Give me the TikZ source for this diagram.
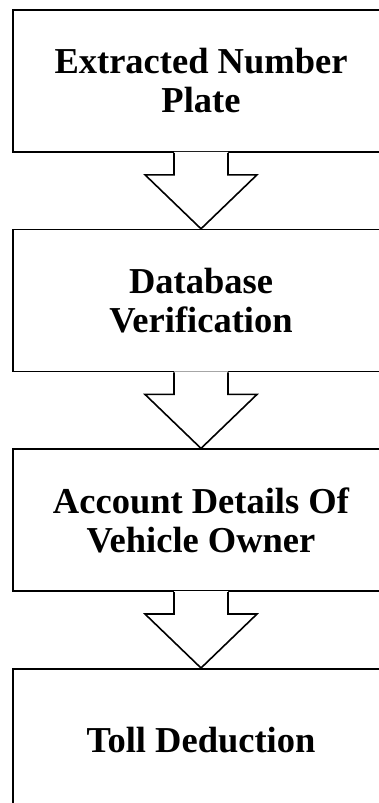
\documentclass[tikz,border=0pt]{standalone}
\usepackage{fontspec}
\setmainfont{Liberation Serif}
\usetikzlibrary{positioning,calc}
\tikzset{
    stage/.style={
           rectangle,
           draw=black, line width=1.6pt,
           minimum width=376pt,
           minimum height=142pt,
           inner sep=0pt,
           align=center,
           font=\fontsize{36.5}{39}\selectfont\bfseries,
           },
    blockarrow/.style={
           draw=black, line width=1.6pt,
           line join=miter,
           },
}

\begin{document}
\begin{tikzpicture}[x=1pt,y=1pt]
	\clip (0,0) rectangle (379,-803);
	\node[stage] (plate) at (201,-81) {Extracted Number\\ Plate};
	\node[stage, below=76pt of plate] (verify) {Database\\ Verification};
	\node[stage, below=76pt of verify] (owner) {Account Details Of\\ Vehicle Owner};
	\node[stage, below=76pt of owner] (toll) {Toll Deduction};
	
	%ARROWS
	\foreach \from/\to in {plate/verify, verify/owner, owner/toll}{
		\fill[white] ($(\from.south)+(-27,1)$) -- ($(\from.south)+(-27,-22)$) -- ($(\from.south)+(-56,-22)$)
			-- (\to.north) -- ($(\from.south)+(56,-22)$) -- ($(\from.south)+(27,-22)$) -- ($(\from.south)+(27,1)$) -- cycle;
		\draw[blockarrow] ($(\from.south)+(-27,0)$) -- ++(0,-22) -- ++(-29,0)
			-- (\to.north) -- ($(\from.south)+(56,-22)$) -- ++(-29,0) -- ++(0,22);
	}
\end{tikzpicture}
\end{document}
